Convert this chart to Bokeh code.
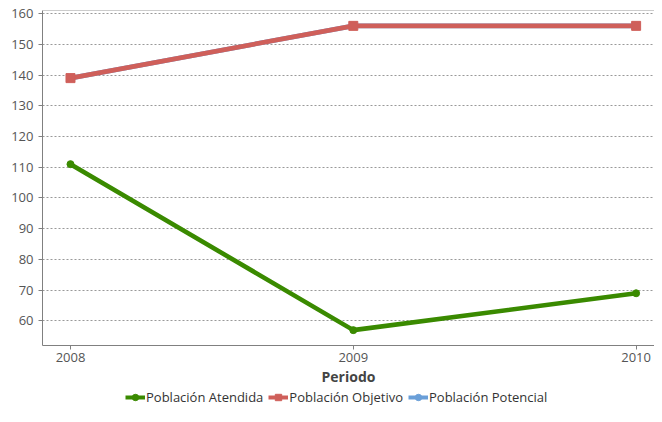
from bokeh.plotting import figure
from bokeh.layouts import column
from bokeh.models import Legend, LegendItem, Span, Range1d, FixedTicker
from bokeh.embed import file_html
from bokeh.resources import INLINE

periods = [2008, 2009, 2010]
atendida = [111, 57, 69]
objetivo = [139, 156, 156]
potencial = [139, 156, 156]
y_ticks = [60, 70, 80, 90, 100, 110, 120, 130, 140, 150, 160]
series_names = ["Población Atendida", "Población Objetivo", "Población Potencial"]

FONT = "Open Sans"
blue = "#6a9fd8"
green = "#3a8a00"
red = "#cf5f5a"

p = figure(width=654, height=388, output_backend="svg", toolbar_location=None,
           x_range=Range1d(2007.901, 2010.065), y_range=Range1d(52, 161),
           min_border_left=42, min_border_right=0, min_border_top=10, min_border_bottom=0)
p.outline_line_color = None
p.background_fill_color = "white"
p.border_fill_color = "white"

for ax in (p.xaxis[0], p.yaxis[0]):
    ax.axis_line_color = "#808080"
    ax.axis_line_width = 1
    ax.major_tick_line_color = "#808080"
    ax.major_tick_out = 4
    ax.major_tick_in = 0
    ax.minor_tick_line_color = None
    ax.major_label_text_font = FONT
    ax.major_label_text_font_size = "13px"
    ax.major_label_text_color = "#555555"

p.xaxis.ticker = FixedTicker(ticks=periods)
p.yaxis.ticker = FixedTicker(ticks=y_ticks)
p.yaxis.major_label_standoff = 5
p.xaxis.axis_label = "Periodo"
p.xaxis.axis_label_text_font = FONT
p.xaxis.axis_label_text_font_size = "14px"
p.xaxis.axis_label_text_font_style = "bold"
p.xaxis.axis_label_text_color = "#444444"
p.xaxis.axis_label_standoff = 2
p.xaxis.major_label_standoff = 3

p.xgrid.grid_line_color = None
p.ygrid.grid_line_color = "#999999"
p.ygrid.grid_line_dash = "2 2"
p.ygrid.grid_line_width = 1

p.add_layout(Span(location=161, dimension="width", line_color="#999999", line_width=1))

values = [atendida, objetivo, potencial]
colors = [green, red, blue]
markers = ["circle", "square", "circle"]
sizes = [7, 9, 7]

# draw in reverse so Atendida is on top
for vals, col, mk, sz in reversed(list(zip(values, colors, markers, sizes))):
    p.line(periods, vals, line_color=col, line_width=4.6)
    p.scatter(periods, vals, marker=mk, size=sz, color=col)

# legend strip below the chart (series drawn off-view, only legend visible)
lg = figure(width=654, height=18, output_backend="svg", toolbar_location=None,
            x_range=Range1d(0, 1), y_range=Range1d(0, 1),
            x_axis_location=None, y_axis_location=None,
            min_border_left=0, min_border_right=0, min_border_top=0, min_border_bottom=0)
lg.outline_line_color = None
lg.xgrid.grid_line_color = None
lg.ygrid.grid_line_color = None

items = []
for name, vals, col, mk, sz in zip(series_names, values, colors, markers, sizes):
    r1 = lg.line(periods, vals, line_color=col, line_width=4)
    r2 = lg.scatter(periods, vals, marker=mk, size=sz - 1, color=col)
    items.append(LegendItem(label=name, renderers=[r1, r2]))

legend = Legend(items=items, orientation="horizontal", location=(83, 0))
legend.label_text_font = FONT
legend.label_text_font_size = "13px"
legend.label_text_color = "#333333"
legend.border_line_color = None
legend.background_fill_alpha = 0
legend.glyph_width = 20
legend.glyph_height = 16
legend.label_height = 16
legend.label_standoff = 1
legend.spacing = 5
legend.padding = 1
legend.margin = 0
lg.add_layout(legend, "center")

layout = column(p, lg, spacing=0)
open("out.html", "w").write(file_html(layout, INLINE))
